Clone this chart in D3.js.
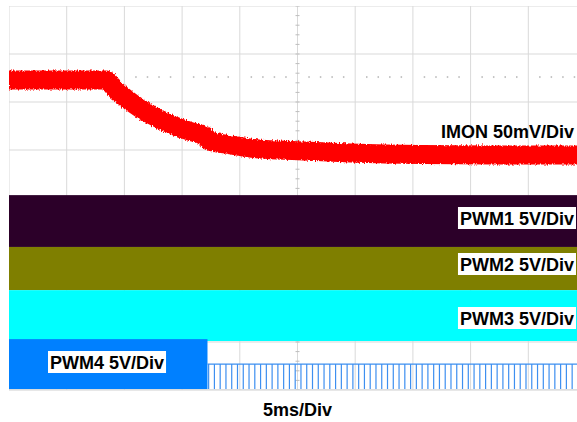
<!DOCTYPE html>
<html>
<head>
<meta charset="utf-8">
<script src="https://cdn.jsdelivr.net/npm/d3@7"></script>
<style>
  html, body { margin: 0; padding: 0; background: #fff; }
  svg { display: block; }
  text { font-family: "Liberation Sans", Arial, sans-serif; font-weight: bold; }
</style>
</head>
<body>
<div id="chart"></div>
<script>
// ---- data ----
// IMON trace: time (ms, 0 = screen centre) and level (mV, 50 mV/Div, 0 = screen centre)
const imonTime = [-25, -16.64, -15.77, -14.9, -13.6, -12.3, -11.0, -9.27, -7.97, -7.71, -5.8, -3.2, 0, 4.6, 10.7, 17, 25];
const imonMv   = [123, 123, 113, 104.2, 93.1, 84.2, 76.9, 69.2, 64.6, 59.6, 55.4, 50.9, 49.3, 46.9, 45.3, 44.9, 44.8];

// PWM channels (levels in screen divisions, 5 V/Div)
const pwmNames  = ["PWM1 5V/Div", "PWM2 5V/Div", "PWM3 5V/Div", "PWM4 5V/Div"];
const pwmHigh   = [0.06, -1.02, -1.92, -2.94];
const pwmLow    = [-1.02, -1.92, -2.98, -3.98];
const pwmStop   = [25, 25, 25, -7.8];       // time (ms) where switching band ends
const pwmColors = ["#2c0029", "#7f7f00", "#00ffff", "#0080ff"];

// PWM4 after switching stops: idle level and narrow pulses (ms)
const pwm4IdleLevel = -3.46;
const pwm4PulseTimes = [-7.7, -7.2, -6.7, -6.2, -5.7, -5.2, -4.7, -4.2, -3.7, -3.2, -2.7, -2.2, -1.7, -1.2, -0.7, -0.2,
  0.3, 0.8, 1.3, 1.8, 2.3, 2.8, 3.3, 3.8, 4.3, 4.8, 5.3, 5.8, 6.3, 6.8, 7.3, 7.8, 8.3, 8.8, 9.3, 9.8,
  10.3, 10.8, 11.3, 11.8, 12.3, 12.8, 13.3, 13.8, 14.3, 14.8, 15.3, 15.8, 16.3, 16.8, 17.3, 17.8, 18.3, 18.8,
  19.3, 19.8, 20.3, 20.8, 21.3, 21.8, 22.3, 22.8, 23.3, 23.8, 24.3];

// graticule
const timeDivs = [-25, -20, -15, -10, -5, 0, 5, 10, 15, 20, 25];
const levelDivs = [-4, -3, -2, -1, 0, 1, 2, 3, 4];
const refLevelDiv = 2.52;
const timeLabel = "5ms/Div";
const imonLabel = "IMON 50mV/Div";

// ---- drawing ----
const W = 577, H = 422;
const svg = d3.select("#chart").append("svg").attr("width", W).attr("height", H);

const x = d3.scaleLinear().domain([-25, 25]).range([9, 586]);
const y = d3.scaleLinear().domain([-4, 4]).range([390, 6]);
const yMv = d3.scaleLinear().domain([-200, 200]).range([390, 6]);

const defs = svg.append("defs");
defs.append("clipPath").attr("id", "plot").append("rect")
  .attr("x", 9).attr("y", 6).attr("width", W - 9).attr("height", 384);
const f = defs.append("filter").attr("id", "fuzz").attr("x", "-5%").attr("y", "-20%").attr("width", "110%").attr("height", "140%");
f.append("feTurbulence").attr("type", "fractalNoise").attr("baseFrequency", "1.2 0.4").attr("numOctaves", 2).attr("seed", 3).attr("result", "n");
f.append("feDisplacementMap").attr("in", "SourceGraphic").attr("in2", "n").attr("scale", 4)
  .attr("xChannelSelector", "R").attr("yChannelSelector", "G");

const g = svg.append("g").attr("clip-path", "url(#plot)");

// grid
g.selectAll("line.vg").data(timeDivs).join("line")
  .attr("x1", d => x(d)).attr("x2", d => x(d)).attr("y1", y(4)).attr("y2", y(-4))
  .attr("stroke", "#d9d9d9").attr("stroke-width", 1);
g.selectAll("line.hg").data(levelDivs).join("line")
  .attr("x1", x(-25)).attr("x2", x(25)).attr("y1", d => y(d)).attr("y2", d => y(d))
  .attr("stroke", "#d9d9d9").attr("stroke-width", 1);

// minor ticks on centre vertical line
const minorY = d3.range(-4, 4.01, 0.2);
g.selectAll("line.mt").data(minorY).join("line")
  .attr("x1", x(0) - 2).attr("x2", x(0) + 2).attr("y1", d => y(d)).attr("y2", d => y(d))
  .attr("stroke", "#bdbdbd").attr("stroke-width", 1);

// dotted reference line
const dotX = d3.range(-25, 25.01, 1).filter(t => Math.abs(t % 5) > 1e-6);
g.selectAll("rect.dot").data(dotX).join("rect")
  .attr("x", d => x(d) - 0.75).attr("y", y(refLevelDiv) - 1).attr("width", 1.5).attr("height", 2)
  .attr("fill", "#c4c4c4");

// IMON trace
const line = d3.line().x((d, i) => x(imonTime[i])).y(d => yMv(d)).curve(d3.curveMonotoneX);
g.append("path").datum(imonMv)
  .attr("d", line)
  .attr("fill", "none").attr("stroke", "#ff0000").attr("stroke-width", 19)
  .attr("stroke-linecap", "butt")
  .attr("filter", "url(#fuzz)");

// PWM bands
pwmNames.forEach((n, i) => {
  g.append("rect")
    .attr("x", x(-25)).attr("width", x(pwmStop[i]) - x(-25))
    .attr("y", y(pwmHigh[i])).attr("height", y(pwmLow[i]) - y(pwmHigh[i]))
    .attr("fill", pwmColors[i]);
});

// PWM4 idle + pulses
const pcol = "#3d8ff0";
g.append("line")
  .attr("x1", x(pwmStop[3])).attr("x2", x(25)).attr("y1", y(pwm4IdleLevel)).attr("y2", y(pwm4IdleLevel))
  .attr("stroke", pcol).attr("stroke-width", 1.3);
g.selectAll("line.pulse").data(pwm4PulseTimes).join("line")
  .attr("x1", d => x(d)).attr("x2", d => x(d))
  .attr("y1", y(pwm4IdleLevel)).attr("y2", y(pwmLow[3]))
  .attr("stroke", pcol).attr("stroke-width", 1.2);

// bottom border
svg.append("line").attr("x1", 9).attr("x2", W).attr("y1", y(-4)).attr("y2", y(-4))
  .attr("stroke", "#d0d0d0");

// labels
function boxLabel(txt, xr, base, anchor, box) {
  const t = svg.append("text").attr("x", xr).attr("y", base)
    .attr("text-anchor", anchor).attr("font-size", 18).attr("fill", "#000").text(txt);
  if (box) {
    const b = t.node().getBBox();
    svg.insert("rect", () => t.node())
      .attr("x", b.x - 2).attr("y", base - 18).attr("width", b.width + 4).attr("height", 22)
      .attr("fill", "#fff");
  }
}
boxLabel(imonLabel, 574, 138, "end", false);
boxLabel(pwmNames[0], 574, 225, "end", true);
boxLabel(pwmNames[1], 574, 271, "end", true);
boxLabel(pwmNames[2], 574, 325, "end", true);
boxLabel(pwmNames[3], 50, 369, "start", true);
boxLabel(timeLabel, 297.5, 416, "middle", false);
</script>
</body>
</html>
